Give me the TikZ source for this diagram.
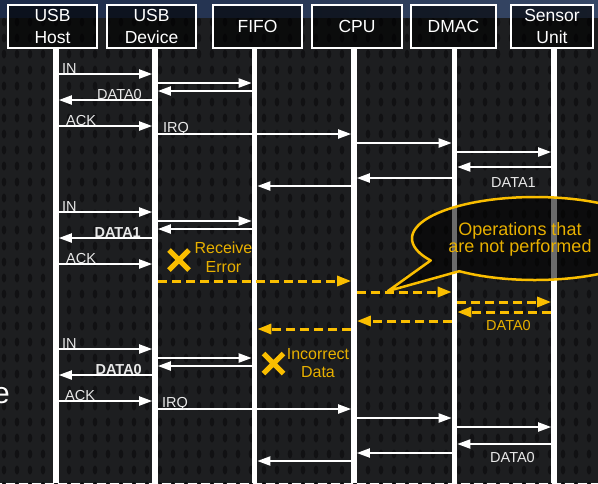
\documentclass[tikz,border=0pt]{standalone}
\usepackage{fontspec}
\setmainfont{Liberation Sans}
\usetikzlibrary{arrows.meta,calc}
\definecolor{bg}{RGB}{29,30,32}
\definecolor{dotc}{RGB}{17,17,19}
\definecolor{gold}{RGB}{250,190,0}
\definecolor{goldtxt}{RGB}{232,176,0}
\definecolor{lbl}{RGB}{232,232,232}
\definecolor{bandA}{RGB}{28,42,72}
\definecolor{bandB}{RGB}{55,72,102}
\newcommand\seqmsg[4][msg]{%
  \path (#2 |- 0,#4) coordinate (ma) (#3 |- 0,#4) coordinate (mb);
  \draw[#1] ($(ma)!2.8pt!(mb)$) -- ($(mb)!2.8pt!(ma)$);}
\begin{document}
\begin{tikzpicture}[x=1pt,y=-1pt,
  hdr/.style={draw=white,line width=2pt,fill=black,fill opacity=0.6,text opacity=1,text=white,
    font=\fontsize{17.5}{21.5}\selectfont,align=center,inner sep=0pt,minimum height=43pt},
  life/.style={white,line width=5.5pt},
  msg/.style={white,line width=2pt,-{Triangle[length=13pt,width=9pt]}},
  fail/.style={gold,line width=3pt,dash pattern=on 9pt off 5pt,-{Triangle[length=14pt,width=10pt]}},
  lab/.style={text=lbl,font=\fontsize{14.5}{17}\selectfont,inner sep=0pt},
  note/.style={text=goldtxt,font=\fontsize{16}{19}\selectfont,align=center,inner sep=0pt},
  cross/.style={gold,line width=5pt},
]
\useasboundingbox (0,0) rectangle (598,483);
\clip (0,0) rectangle (598,483);
% background
\fill[bg] (0,0) rectangle (598,483);
\foreach \i in {0,...,46}{\foreach \j in {0,...,29}{
  \fill[dotc] (\i*13+4,\j*16+22) ellipse[x radius=2.3pt,y radius=4.5pt];}}
\shade[left color=bandA,right color=bandB] (0,0) rectangle (598,17);
% lifeline anchors
\coordinate (lHost) at (56,48);
\coordinate (lDev) at (155,48);
\coordinate (lFifo) at (254.5,48);
\coordinate (lCpu) at (354,48);
\coordinate (lDmac) at (454.5,48);
\coordinate (lSen) at (554,48);
\foreach \c in {lHost,lDev,lFifo,lCpu,lDmac,lSen}{\draw[life] (\c) -- (\c |- 0,483);}
% headers
\node[hdr,minimum width=89pt] (hHost) at (52.5,26.5) {USB\\Host};
\node[hdr,minimum width=89pt] (hDev) at (151.5,26.5) {USB\\Device};
\node[hdr,minimum width=89pt] (hFifo) at (257.5,26.5) {FIFO};
\node[hdr,minimum width=90pt] (hCpu) at (357,26.5) {CPU};
\node[hdr,minimum width=85pt] (hDmac) at (453.5,26.5) {DMAC};
\node[hdr,minimum width=82pt] (hSen) at (552,26.5) {Sensor\\Unit};
% block 1
\seqmsg{lHost}{lDev}{74}
\seqmsg{lDev}{lFifo}{83}
\seqmsg{lFifo}{lDev}{91}
\seqmsg{lDev}{lHost}{100}
\seqmsg{lHost}{lDev}{126}
\seqmsg{lDev}{lCpu}{134}
\seqmsg{lCpu}{lDmac}{143}
\seqmsg{lDmac}{lSen}{152}
\seqmsg{lSen}{lDmac}{167}
\seqmsg{lDmac}{lCpu}{178}
\seqmsg{lCpu}{lFifo}{186}
\node[lab,anchor=base west] (t1) at (62,73) {IN};
\node[lab,anchor=base east] (t2) at (142,99) {DATA0};
\node[lab,anchor=base west] (t3) at (66,125) {ACK};
\node[lab,anchor=base west] (t4) at (163,132) {IRQ};
\node[lab,anchor=base west] (t5) at (491,187) {DATA1};
% block 2
\seqmsg{lHost}{lDev}{212}
\seqmsg{lDev}{lFifo}{221}
\seqmsg{lFifo}{lDev}{229}
\seqmsg{lDev}{lHost}{238}
\seqmsg{lHost}{lDev}{264}
\seqmsg[fail]{lDev}{lCpu}{281}
\seqmsg[fail]{lCpu}{lDmac}{292}
\seqmsg[fail]{lDmac}{lSen}{302}
\seqmsg[fail]{lSen}{lDmac}{312}
\seqmsg[fail]{lDmac}{lCpu}{321}
\seqmsg[fail]{lCpu}{lFifo}{329}
\node[lab,anchor=base west] (t6) at (62,211) {IN};
\node[lab,anchor=base east,font=\fontsize{14.5}{17}\selectfont\bfseries] (t7) at (141,237) {DATA1};
\node[lab,anchor=base west] (t8) at (66,263) {ACK};
\node[lab,anchor=base west,text=goldtxt] (t9) at (486,330) {DATA0};
\draw[cross] (169,250) -- (189,270) (169,270) -- (189,250);
\node[note] (n1) at (223.5,257) {Receive\\Error};
% block 3
\seqmsg{lHost}{lDev}{349}
\seqmsg{lDev}{lFifo}{358}
\seqmsg{lFifo}{lDev}{366}
\seqmsg{lDev}{lHost}{375}
\seqmsg{lHost}{lDev}{401}
\seqmsg{lDev}{lCpu}{409}
\seqmsg{lCpu}{lDmac}{418}
\seqmsg{lDmac}{lSen}{427}
\seqmsg{lSen}{lDmac}{444}
\seqmsg{lDmac}{lCpu}{453}
\seqmsg{lCpu}{lFifo}{461}
\node[lab,anchor=base west] (t10) at (62,348) {IN};
\node[lab,anchor=base east,font=\fontsize{14.5}{17}\selectfont\bfseries] (t11) at (142,374) {DATA0};
\node[lab,anchor=base west] (t12) at (65,400) {ACK};
\node[lab,anchor=base west] (t13) at (162,407) {IRQ};
\node[lab,anchor=base west] (t14) at (490,462) {DATA0};
\draw[cross] (263.5,353.5) -- (283.5,373.5) (263.5,373.5) -- (283.5,353.5);
\node[note,font=\fontsize{16}{18}\selectfont] (n2) at (318,363) {Incorrect\\Data};
% callout
\draw[gold,line width=2.5pt,fill=black,fill opacity=0.58,line join=round]
  plot[domain=148:488,samples=120,smooth] ({535+123*cos(\x)},{238.5+41.5*sin(\x)}) -- (388,291) -- cycle;
\node[note,font=\fontsize{18}{17}\selectfont] (n3) at (520,239) {Operations that\\are not performed};
% clipped side text
\node[text=white,font=\fontsize{30}{32}\selectfont,anchor=base east,inner sep=0pt] (side) at (10,403) {e};
\end{tikzpicture}
\end{document}
